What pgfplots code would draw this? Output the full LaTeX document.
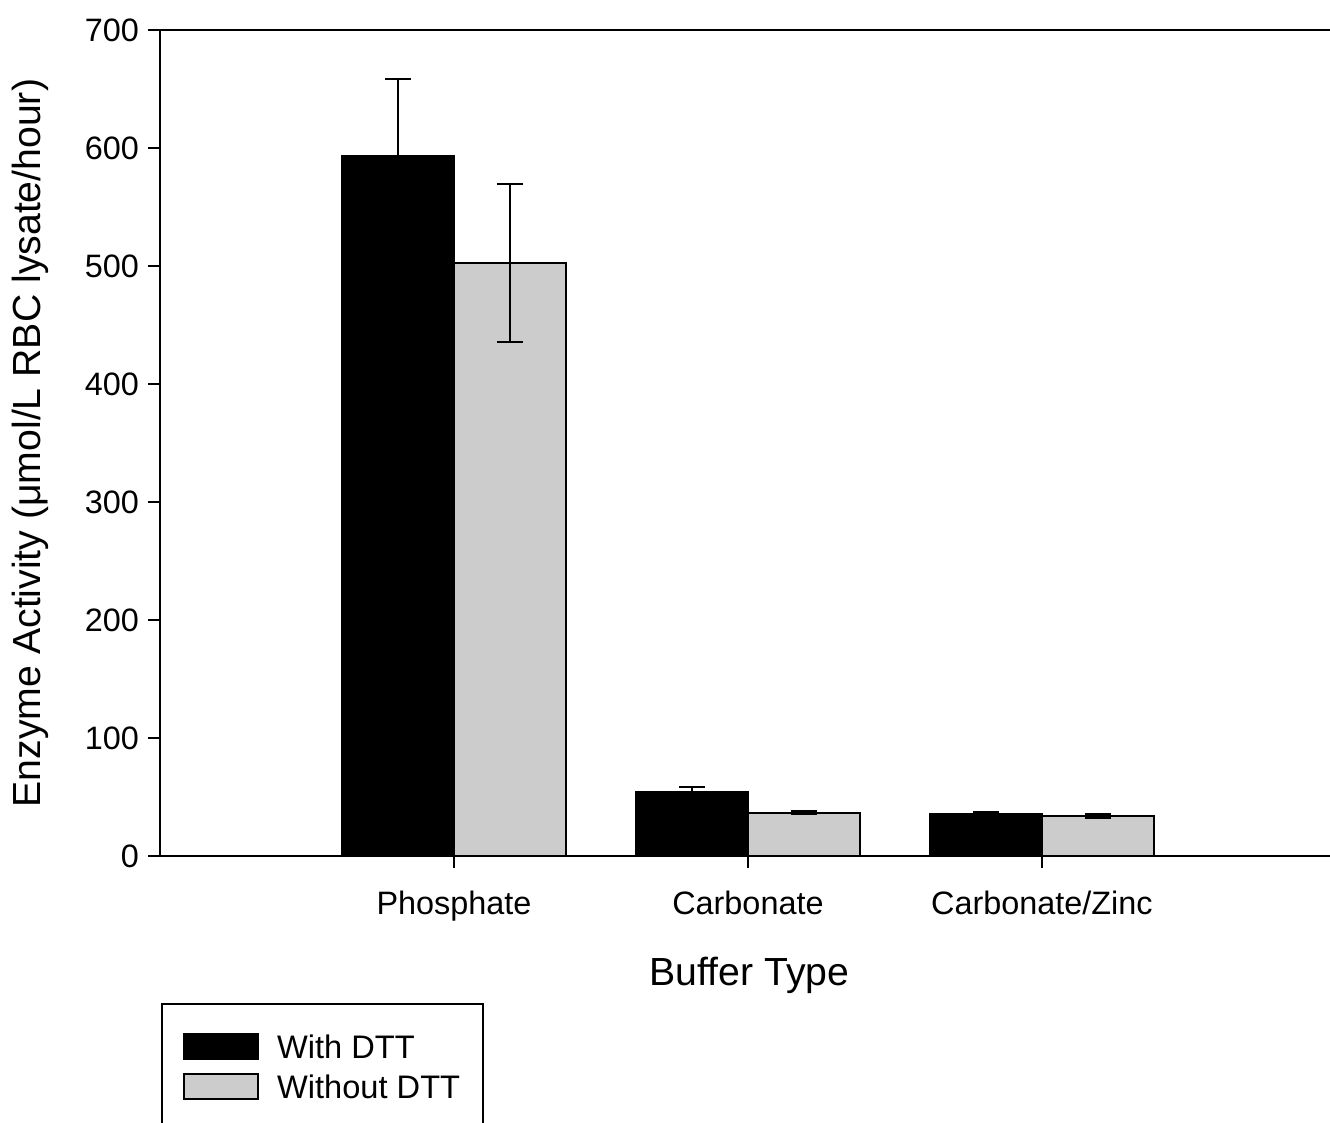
\documentclass[border=0pt]{standalone}
\usepackage{pgfplots}
\pgfplotsset{compat=1.18}
\usepackage{fontspec}
\setmainfont{Liberation Sans}
\begin{document}
\begin{tikzpicture}
\path[use as bounding box, clip] (-80pt,-133.5pt) rectangle (585pt,428pt);
\pgfplotsset{mylegend/.style={legend image code/.code={\path[draw=none, fill=none] (0pt,0pt) -- (41pt,0pt);\draw[##1, line width=1pt] (4pt,-5.5pt) rectangle (41pt,7pt);}}}
\begin{axis}[
  at={(0,0)}, anchor=south west,
  scale only axis, width=585pt, height=413pt,
  xmin=0, xmax=3.98, ymin=0, ymax=700,
  axis x line=box, axis y line=left,
  axis line style={-, line width=1.2pt, black},
  xtick pos=lower,
  xtick={1,2,3}, xticklabels={Phosphate,Carbonate,Carbonate/Zinc},
  ytick={0,100,...,700},
  tick align=outside, major tick length=6pt,
  tick style={line width=1pt, black},
  /pgf/number format/assume math mode=true,
  ticklabel style={font=\fontsize{16.2}{19}\selectfont},
  xticklabel style={yshift=-8pt},
  yticklabel style={xshift=-1pt},
  every axis y label/.style={at={(axis description cs:-0.111,0.5)}, rotate=90, anchor=center, font=\fontsize{19.6}{23}\selectfont},
  every axis x label/.style={at={(axis description cs:0.504,-0.144)}, anchor=center, font=\fontsize{19.6}{23}\selectfont},
  xlabel={Buffer Type},
  ylabel={Enzyme Activity (μmol/L RBC lysate/hour)},
  legend style={at={(axis description cs:0.001,-0.178)}, anchor=north west, draw=black, line width=1pt,
    inner xsep=6.75pt, inner ysep=13.5pt, row sep=2.5pt, column sep=4.5pt,
    nodes={inner xsep=4.75pt, inner ysep=2pt, font=\fontsize{16.3}{19}\selectfont}},
  legend cell align=left,
]
\addplot[ybar, bar width=0.38, bar shift=0pt, fill=black, draw=black, line width=1pt, mylegend,
  error bars/.cd, y dir=both, y explicit,
  error bar style={line width=1pt, black},
  error mark options={rotate=90, mark size=6.5pt, line width=1pt, black}]
  coordinates {(0.81,593.6) +- (0,64.6) (1.81,54.4) +- (0,3.8) (2.81,35.7) +- (0,1.7)};
\addlegendentry{With DTT}
\addplot[ybar, bar width=0.38, bar shift=0pt, fill=black!20, draw=black, line width=1pt, mylegend,
  error bars/.cd, y dir=both, y explicit,
  error bar style={line width=1pt, black},
  error mark options={rotate=90, mark size=6.5pt, line width=1pt, black}]
  coordinates {(1.19,502.5) +- (0,67) (2.19,36.7) +- (0,1.4) (3.19,33.9) +- (0,2.0)};
\addlegendentry{Without DTT}
\end{axis}
\end{tikzpicture}
\end{document}
